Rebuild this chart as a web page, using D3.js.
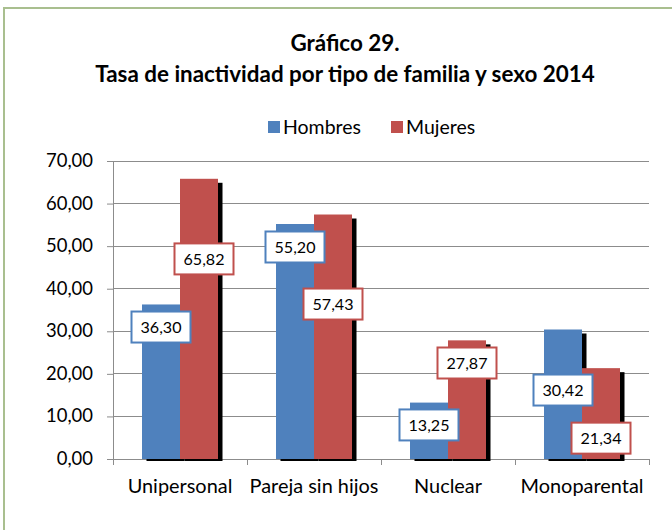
<!DOCTYPE html>
<html><head><meta charset="utf-8">
<script src="https://cdn.jsdelivr.net/npm/d3@7"></script>
<style>body{margin:0;background:#fff}svg{display:block}text{font-family:Lato,"Noto Sans",sans-serif;fill:#000}</style>
</head><body><svg id="c" width="672" height="530"></svg>
<script>
const categories = ["Unipersonal","Pareja sin hijos","Nuclear","Monoparental"];
const seriesNames = ["Hombres","Mujeres"];
const hombres = [36.30, 55.20, 13.25, 30.42];
const mujeres = [65.82, 57.43, 27.87, 21.34];
const yTicks = [0,10,20,30,40,50,60,70];
const titleLines = ["Gráfico 29.","Tasa de inactividad por tipo de familia y sexo 2014"];
// manual label placement (value units for vertical centre, px for horizontal nudge)
const labelAtH = [31.0, 49.8, 8.0, 16.2];
const labelAtM = [47.0, 36.4, 22.55, 4.9];
const labelDxH = [0,0,0,0];
const labelDxM = [5,0,0,0];

const colors = {Hombres:"#4f81bd", Mujeres:"#c0504d"};
const fmt = v => v.toFixed(2).replace(".", ",");

const svg = d3.select("#c");
// font size fitting: measure sample string at 100px and scale to target width
function sizeFor(str, target, weight){
  const t = svg.append("text").attr("font-size",100).attr("font-weight",weight||"normal").text(str);
  const w = t.node().getComputedTextLength(); t.remove();
  return 100*target/w;
}
const fsTitle = sizeFor(titleLines[1], 500, "bold");
const fsTick = sizeFor("70,00", 47);
const fsCat = sizeFor("Monoparental", 123);
const fsLeg = sizeFor("Hombres", 78);
const fsLab = sizeFor("36,30", 41);

// outer border
svg.append("rect").attr("x",4).attr("y",8).attr("width",700).attr("height",560)
  .attr("fill","none").attr("stroke","#a9bf8f").attr("stroke-width",2);

const y = d3.scaleLinear().domain([0,70]).range([459,161]);
const x = d3.scaleBand().domain(categories).range([113,649]);
const xs = d3.scaleBand().domain(seriesNames).range([29,105]);

// title
svg.append("text").attr("x",345).attr("y",51).attr("text-anchor","middle")
  .attr("font-weight","bold").attr("font-size",fsTitle).text(titleLines[0]);
svg.append("text").attr("x",345).attr("y",82).attr("text-anchor","middle")
  .attr("font-weight","bold").attr("font-size",fsTitle).text(titleLines[1]);

// legend
const legX = [268, 391];
seriesNames.forEach((s,i)=>{
  svg.append("rect").attr("x",legX[i]).attr("y",121).attr("width",12).attr("height",12).attr("fill",colors[s]);
  svg.append("text").attr("x",legX[i]+15).attr("y",133.5).attr("font-size",fsLeg).text(s);
});

// gridlines
svg.append("g").selectAll("line").data(yTicks).join("line")
  .attr("x1",113).attr("x2",649).attr("y1",d=>y(d)).attr("y2",d=>y(d))
  .attr("stroke","#8c8c8c").attr("stroke-width",1).attr("shape-rendering","crispEdges");

// y axis
const ya = svg.append("g").attr("transform","translate(113,0)")
  .call(d3.axisLeft(y).tickValues(yTicks).tickFormat(fmt).tickSize(6).tickPadding(14));
ya.select(".domain").attr("stroke","#8c8c8c");
ya.selectAll(".tick line").attr("stroke","#8c8c8c");
ya.selectAll("text").attr("font-size",fsTick).attr("fill","#000").attr("font-family","Lato")
  .attr("dy",null).attr("y",5.5);

// x axis
const xa = svg.append("g").attr("transform","translate(0,459)")
  .call(d3.axisBottom(x).tickSize(0).tickPadding(0));
xa.select(".domain").remove();
xa.selectAll("text").attr("font-size",fsCat).attr("fill","#000").attr("font-family","Lato")
  .attr("dy",null).attr("y",34);
svg.append("line").attr("x1",113).attr("x2",649).attr("y1",459).attr("y2",459).attr("stroke","#8c8c8c").attr("shape-rendering","crispEdges");
const bounds = categories.map(c=>x(c)).concat([x.range()[1]]);
svg.append("g").selectAll("line").data(bounds).join("line")
  .attr("x1",d=>d).attr("x2",d=>d).attr("y1",459).attr("y2",465)
  .attr("stroke","#8c8c8c").attr("shape-rendering","crispEdges");

const data = categories.map((c,i)=>({c, vals:[
  {s:"Hombres", v:hombres[i], la:labelAtH[i], dx:labelDxH[i]},
  {s:"Mujeres", v:mujeres[i], la:labelAtM[i], dx:labelDxM[i]}]}));

// shadows
const sh = svg.append("g");
data.forEach(d=>d.vals.forEach(b=>{
  const x0 = x(d.c)+xs(b.s);
  sh.append("rect").attr("x",x0+4.5).attr("y",y(b.v)+4)
    .attr("width",xs.bandwidth()).attr("height",y(0)+2-(y(b.v)+4)).attr("fill","#000");
}));
// bars
const bg = svg.append("g");
data.forEach(d=>d.vals.forEach(b=>{
  bg.append("rect").attr("x",x(d.c)+xs(b.s)).attr("y",y(b.v))
    .attr("width",xs.bandwidth()).attr("height",y(0)-y(b.v)).attr("fill",colors[b.s]);
}));
// labels
const lg = svg.append("g");
data.forEach(d=>d.vals.forEach(b=>{
  const cx = x(d.c)+xs(b.s)+xs.bandwidth()/2+b.dx, cy = y(b.la);
  lg.append("rect").attr("x",cx-29.5).attr("y",cy-15.5).attr("width",59).attr("height",31)
    .attr("fill","#fff").attr("stroke",colors[b.s]).attr("stroke-width",2);
  lg.append("text").attr("x",cx).attr("y",cy+6).attr("text-anchor","middle")
    .attr("font-size",fsLab).text(fmt(b.v));
}));
</script></body></html>
